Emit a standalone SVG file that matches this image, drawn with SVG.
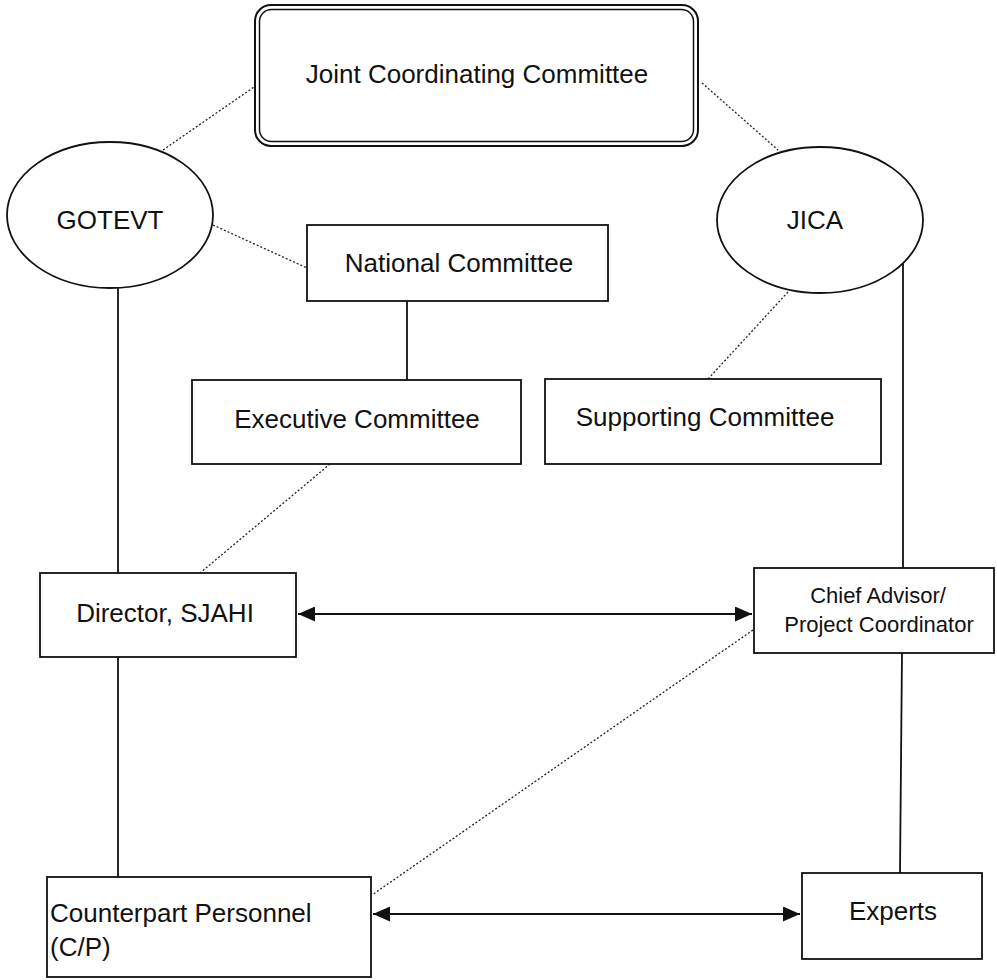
<svg xmlns="http://www.w3.org/2000/svg" width="997" height="980" viewBox="0 0 997 980">
<defs>
<style>
.box{fill:#fff;stroke:#111;stroke-width:1.8}
.t{font-family:"Liberation Sans",Arial,sans-serif;font-size:26px;fill:#111;text-anchor:middle}
.ts{font-family:"Liberation Sans",Arial,sans-serif;font-size:22px;fill:#111;text-anchor:middle}
.tl{font-family:"Liberation Sans",Arial,sans-serif;font-size:26px;fill:#111}
.solid{stroke:#111;stroke-width:1.8;fill:none}
.dot{stroke:#222;stroke-width:1.3;stroke-dasharray:2 2;fill:none}
.arr{stroke:#111;stroke-width:1.8;fill:none;marker-start:url(#ah);marker-end:url(#ah)}
</style>
<marker id="ah" viewBox="0 0 17 15" refX="17" refY="7.5" markerWidth="17" markerHeight="15" markerUnits="userSpaceOnUse" orient="auto-start-reverse">
<path d="M0,0 L17,7.5 L0,15 Z" fill="#111"/>
</marker>
</defs>
<rect width="997" height="980" fill="#fff"/>
<g id="connectors">
<line class="dot" x1="163" y1="150" x2="254" y2="87"/>
<line class="dot" x1="702" y1="83" x2="778" y2="150"/>
<line class="dot" x1="213" y1="225" x2="307" y2="268"/>
<line class="dot" x1="788" y1="292" x2="708" y2="379"/>
<line class="solid" x1="407" y1="301" x2="407" y2="380"/>
<line class="solid" x1="118" y1="288" x2="118" y2="573"/>
<line class="solid" x1="903" y1="264" x2="903" y2="568"/>
<line class="dot" x1="330" y1="464" x2="200" y2="573"/>
<line class="dot" x1="753" y1="630" x2="372" y2="895"/>
<line class="solid" x1="118" y1="657" x2="118" y2="877"/>
<line class="solid" x1="902" y1="653" x2="900" y2="873"/>
<line class="arr" x1="298" y1="614" x2="752" y2="614"/>
<line class="arr" x1="373" y1="914" x2="800" y2="914"/>
</g>
<g id="jcc">
<rect x="255" y="5" width="443" height="141" rx="16" fill="#fff" stroke="#111" stroke-width="2"/>
<rect x="259.5" y="9.5" width="434" height="132" rx="12" fill="none" stroke="#111" stroke-width="1.5"/>
<text class="t" x="477" y="83">Joint Coordinating Committee</text>
</g>
<g id="gotevt">
<ellipse class="box" cx="110" cy="215" rx="103" ry="73"/>
<text class="t" x="110" y="229">GOTEVT</text>
</g>
<g id="jica">
<ellipse class="box" cx="820" cy="220" rx="103" ry="73"/>
<text class="t" x="815" y="229">JICA</text>
</g>
<g id="national">
<rect class="box" x="307" y="225" width="301" height="76"/>
<text class="t" x="459" y="272">National Committee</text>
</g>
<g id="executive">
<rect class="box" x="192" y="380" width="329" height="84"/>
<text class="t" x="357" y="428">Executive Committee</text>
</g>
<g id="supporting">
<rect class="box" x="545" y="379" width="336" height="85"/>
<text class="t" x="705" y="426">Supporting Committee</text>
</g>
<g id="director">
<rect class="box" x="40" y="573" width="256" height="84"/>
<text class="t" x="165" y="622">Director, SJAHI</text>
</g>
<g id="chief">
<rect class="box" x="754" y="568" width="240" height="85"/>
<text class="ts" x="878" y="603">Chief Advisor/</text>
<text class="ts" x="879" y="632">Project Coordinator</text>
</g>
<g id="counterpart">
<rect class="box" x="47" y="877" width="324" height="100"/>
<text class="tl" x="50" y="922">Counterpart Personnel</text>
<text class="tl" x="50" y="956">(C/P)</text>
</g>
<g id="experts">
<rect class="box" x="802" y="873" width="180" height="86"/>
<text class="t" x="893" y="920">Experts</text>
</g>
</svg>
